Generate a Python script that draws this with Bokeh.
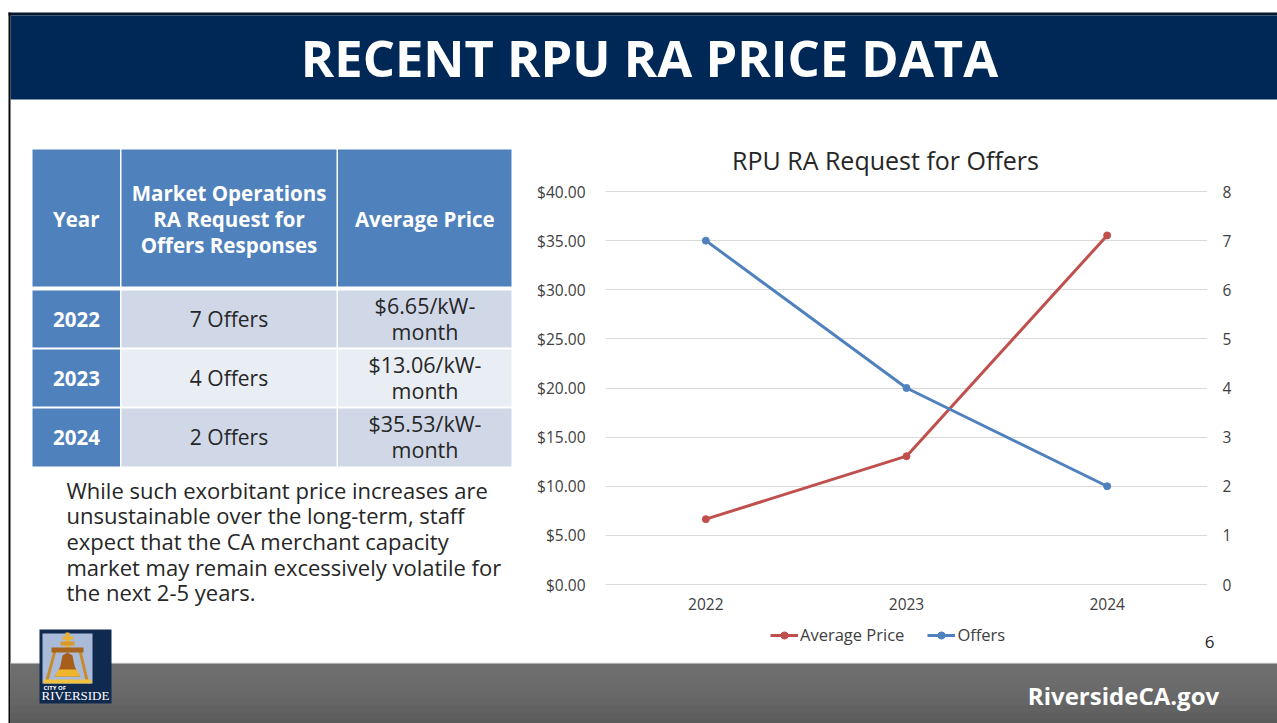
from bokeh.plotting import figure
from bokeh.embed import file_html
from bokeh.resources import INLINE
from bokeh.layouts import column
from bokeh.models import (BoxAnnotation, Label, PolyAnnotation, Range1d, LinearAxis,
                          FixedTicker, NumeralTickFormatter, Legend, LegendItem)

# ---- data
years = [2022, 2023, 2024]
average_price = [6.65, 13.06, 35.53]
offers = [7, 4, 2]
price_ticks = [0, 5, 10, 15, 20, 25, 30, 35, 40]
offer_ticks = [0, 1, 2, 3, 4, 5, 6, 7, 8]
table_headers = ["Year", "Market Operations\nRA Request for\nOffers Responses", "Average Price"]
body_lines = ["While such exorbitant price increases are",
              "unsustainable over the long-term, staff",
              "expect that the CA merchant capacity",
              "market may remain excessively volatile for",
              "the next 2-5 years."]

FONT = "Open Sans"
W, H = 1277, 723
PAD = 5                             # frame overhang so that edge gridlines are not clipped
FL, FR, FT, FB = 605, 1207, 191 - PAD, 584 + PAD  # chart frame in page pixels
span = FB - FT - 2 * PAD
RED, LBLUE = "#c0504d", "#4f81bd"

# ---- background: the slide itself, in page pixels
bg = figure(width=W, height=H, output_backend="svg", toolbar_location=None,
            x_range=Range1d(0, W), y_range=Range1d(H, 0), frame_align=False,
            min_border=0, min_border_left=0, min_border_right=0, min_border_top=0, min_border_bottom=0)
bg.axis.visible = False
bg.grid.visible = False
bg.outline_line_color = None


def box(l, t, r, b, color):
    bg.add_layout(BoxAnnotation(left=l, right=r, top=t, bottom=b, fill_color=color, fill_alpha=1,
                                line_alpha=0, level="underlay", editable=False))


def poly(xs, ys, color):
    bg.add_layout(PolyAnnotation(xs=xs, ys=ys, fill_color=color, fill_alpha=1, line_alpha=0,
                                 level="underlay"))


def text(x, y, s, size, color="#262626", bold=False, align="center", font=FONT):
    bg.add_layout(Label(x=x, y=y, text=s, text_font_size=f"{size}px", text_color=color,
                        text_font=font, text_font_style="bold" if bold else "normal",
                        text_align=align, text_baseline="middle"))


box(8, 12, 1277, 15, "#04172f")
box(8, 12, 10, 723, "#0a0a0a")
box(10, 15, 1277, 99, "#002856")
text(649, 57, "RECENT RPU RA PRICE DATA", 50.7, "#ffffff", True)
grays = ["#6e6e6e", "#6d6d6d", "#6c6c6c", "#6a6a6a", "#686868", "#656565", "#626262", "#5e5e5e", "#5a5a5a"]
box(10, 662, 1277, 663, "#e6e6e6")
for i, c in enumerate(grays):
    box(10, 663 + i * 7, 1277, 723, c)
text(1123, 695, "RiversideCA.gov", 24, "#ffffff", True)
text(1209, 641, "6", 17)

# table
BLUE, ROW1, ROW2 = "#4f81bd", "#d0d8e8", "#e9edf4"
cols = [(32, 119.5), (121, 336), (337.5, 511)]
rows = [(290, 347), (349, 406), (408, 466)]
for (l, r), h in zip(cols, table_headers):
    box(l, 149, r, 286, BLUE)
    parts = h.split("\n")
    for j, part in enumerate(parts):
        text((l + r) / 2, 218.5 + (j - (len(parts) - 1) / 2) * 26, part, 20.5, "#ffffff", True)
for i, ((t, b), y, o, v) in enumerate(zip(rows, years, offers, average_price)):
    fill = ROW1 if i % 2 == 0 else ROW2
    box(32, t, 119.5, b, BLUE)
    box(121, t, 336, b, fill)
    box(337.5, t, 511, b, fill)
    text(76, (t + b) / 2, str(y), 20.5, "#ffffff", True)
    text(228.5, (t + b) / 2 - 0.5, f"{o} Offers", 21)
    text(424.5, (t + b) / 2 - 14, f"${v:.2f}/kW-", 21.5)
    text(424.5, (t + b) / 2 + 12, "month", 21.5)

for i, line in enumerate(body_lines):
    text(66, 489 + i * 25.7, line, 22, align="left")

# logo
box(39, 629, 111, 703, "#10294f")
box(42, 633, 92, 683, "#a9bbd9")
poly([53, 56, 48, 45], [650, 650, 680, 680], "#c98a28")
poly([78, 81, 88, 85], [650, 650, 680, 680], "#c98a28")
box(65, 632, 69, 650, "#eeb02f")
box(62, 636, 73, 639, "#eeb02f")
box(60, 641, 74, 645, "#d99a2b")
box(51, 647, 83, 652, "#a8641d")
poly([67, 62, 60, 58, 54, 80, 76, 74, 72], [652, 655, 665, 670, 676, 676, 670, 665, 655], "#a65e1a")
poly([54, 80, 76, 58], [676, 676, 669, 669], "#f0b52f")
box(43, 679, 91, 683, "#f2c13f")
text(43, 687, "CITY OF", 6, "#ffffff", True, "left")
text(75, 695, "RIVERSIDE", 13, "#ffffff", False, "center", "Liberation Serif")

text(885, 159, "RPU RA Request for Offers", 25)

# legend lives on the full-canvas layer, since the chart's frame would clip it;
# its key renderers sit beyond this layer's pixel range, so only the legend shows them
k1a = bg.line(years, average_price, line_color=RED, line_width=3)
k1b = bg.scatter(years, average_price, size=7, fill_color=RED, line_color=RED)
k2a = bg.line(years, offers, line_color=LBLUE, line_width=3)
k2b = bg.scatter(years, offers, size=7, fill_color=LBLUE, line_color=LBLUE)
legend = Legend(items=[LegendItem(label="Average Price", renderers=[k1a, k1b]),
                       LegendItem(label="Offers", renderers=[k2a, k2b])],
                orientation="horizontal", location=(770, H - 646), padding=0, margin=0,
                spacing=23, glyph_width=28, glyph_height=18, label_standoff=2,
                border_line_color=None, background_fill_alpha=0,
                label_text_font=FONT, label_text_font_size="16.5px", label_text_color="#404040")
bg.add_layout(legend, "center")

# ---- chart, laid over the slide
pad_price = PAD * (price_ticks[-1] - price_ticks[0]) / span
pad_offer = PAD * (offer_ticks[-1] - offer_ticks[0]) / span
p = figure(width=W, height=H, output_backend="svg", toolbar_location=None, frame_align=False,
           x_range=Range1d(2021.5, 2024.5),
           y_range=Range1d(price_ticks[0] - pad_price, price_ticks[-1] + pad_price),
           min_border_left=FL, min_border_right=W - FR, min_border_top=FT, min_border_bottom=H - FB,
           margin=(-H, 0, 0, 0))
p.frame_width = FR - FL
p.frame_height = FB - FT
p.outline_line_color = None
p.background_fill_color = None
p.border_fill_color = None
p.extra_y_ranges["offers"] = Range1d(offer_ticks[0] - pad_offer, offer_ticks[-1] + pad_offer)

p.xgrid.visible = False
p.ygrid.ticker = FixedTicker(ticks=price_ticks)
p.ygrid.grid_line_color = "#d9d9d9"
p.ygrid.grid_line_width = 1

for ax in [p.xaxis[0], p.yaxis[0]]:
    ax.axis_line_color = None
    ax.major_tick_line_color = None
    ax.minor_tick_line_color = None
    ax.major_label_text_font = FONT
    ax.major_label_text_font_size = "15.5px"
    ax.major_label_text_color = "#404040"
p.xaxis[0].major_label_standoff = 2
p.xaxis[0].ticker = FixedTicker(ticks=years)
p.xaxis[0].formatter = NumeralTickFormatter(format="0")
p.yaxis[0].major_label_standoff = 14
p.yaxis[0].ticker = FixedTicker(ticks=price_ticks)
p.yaxis[0].formatter = NumeralTickFormatter(format="$0.00")

right = LinearAxis(y_range_name="offers", ticker=FixedTicker(ticks=offer_ticks), axis_line_color=None,
                   major_tick_line_color=None, minor_tick_line_color=None, major_label_standoff=9,
                   major_label_text_font=FONT, major_label_text_font_size="15.5px",
                   major_label_text_color="#404040")
p.add_layout(right, "right")

p.line(years, average_price, line_color=RED, line_width=3)
p.scatter(years, average_price, size=7, fill_color=RED, line_color=RED)
p.line(years, offers, y_range_name="offers", line_color=LBLUE, line_width=3)
p.scatter(years, offers, y_range_name="offers", size=7, fill_color=LBLUE, line_color=LBLUE)

open("out.html", "w").write(file_html(column(bg, p, spacing=0), INLINE))
